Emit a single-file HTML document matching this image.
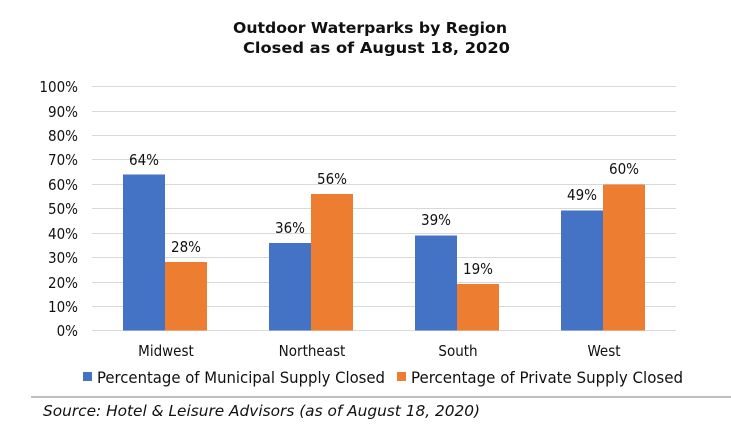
<!DOCTYPE html>
<html><head><style>
body{margin:0;background:#fff;}
svg text{font-family:"DejaVu Sans Condensed","Liberation Sans",sans-serif;fill:#111;}
</style></head><body>
<svg width="731" height="433" xmlns="http://www.w3.org/2000/svg">
<rect width="731" height="433" fill="#fff"/>
<text x="233" y="33" font-size="15" font-weight="bold" textLength="274" lengthAdjust="spacingAndGlyphs" style="font-family:'DejaVu Sans',sans-serif">Outdoor Waterparks by Region</text>
<text x="243" y="53" font-size="15" font-weight="bold" textLength="267" lengthAdjust="spacingAndGlyphs" style="font-family:'DejaVu Sans',sans-serif">Closed as of August 18, 2020</text>
<g stroke="#d9d9d9" stroke-width="1">
<line x1="92" y1="330.5" x2="676" y2="330.5"/>
<line x1="92" y1="306.5" x2="676" y2="306.5"/>
<line x1="92" y1="282.5" x2="676" y2="282.5"/>
<line x1="92" y1="257.5" x2="676" y2="257.5"/>
<line x1="92" y1="233.5" x2="676" y2="233.5"/>
<line x1="92" y1="208.5" x2="676" y2="208.5"/>
<line x1="92" y1="184.5" x2="676" y2="184.5"/>
<line x1="92" y1="159.5" x2="676" y2="159.5"/>
<line x1="92" y1="135.5" x2="676" y2="135.5"/>
<line x1="92" y1="111.5" x2="676" y2="111.5"/>
<line x1="92" y1="86.5" x2="676" y2="86.5"/>
</g>
<g font-size="15" text-anchor="end">
<text x="78" y="336">0%</text><text x="78" y="312">10%</text><text x="78" y="288">20%</text>
<text x="78" y="263">30%</text><text x="78" y="239">40%</text><text x="78" y="214">50%</text>
<text x="78" y="190">60%</text><text x="78" y="165">70%</text><text x="78" y="141">80%</text>
<text x="78" y="117">90%</text><text x="78" y="92">100%</text>
</g>
<g fill="#4472c4">
<rect x="123" y="174.5" width="42" height="156"/>
<rect x="269" y="243" width="42" height="87.5"/>
<rect x="415" y="235.5" width="42" height="95"/>
<rect x="561" y="210.5" width="42" height="120"/>
</g>
<g fill="#ed7d31">
<rect x="165" y="262" width="42" height="68.5"/>
<rect x="311" y="194" width="42" height="136.5"/>
<rect x="457" y="284" width="42" height="46.5"/>
<rect x="603" y="184.5" width="42" height="146"/>
</g>
<g font-size="15" text-anchor="middle">
<text x="144" y="165">64%</text><text x="186" y="252">28%</text>
<text x="290" y="233">36%</text><text x="332" y="184">56%</text>
<text x="436" y="225">39%</text><text x="478" y="274">19%</text>
<text x="582" y="200">49%</text><text x="624" y="174">60%</text>
<text x="166" y="356">Midwest</text><text x="312" y="356">Northeast</text>
<text x="458" y="356">South</text><text x="604" y="356">West</text>
</g>
<rect x="83" y="372" width="9" height="9" fill="#4472c4"/>
<text x="97" y="383" font-size="16" textLength="288" lengthAdjust="spacingAndGlyphs">Percentage of Municipal Supply Closed</text>
<rect x="397" y="372" width="9" height="9" fill="#ed7d31"/>
<text x="411" y="383" font-size="16" textLength="272" lengthAdjust="spacingAndGlyphs">Percentage of Private Supply Closed</text>
<line x1="31" y1="397" x2="731" y2="397" stroke="#bfbfbf" stroke-width="2"/>
<text x="43" y="416" font-size="15.5" font-style="italic" textLength="437" lengthAdjust="spacingAndGlyphs">Source: Hotel &amp; Leisure Advisors (as of August 18, 2020)</text>
</svg>
</body></html>
